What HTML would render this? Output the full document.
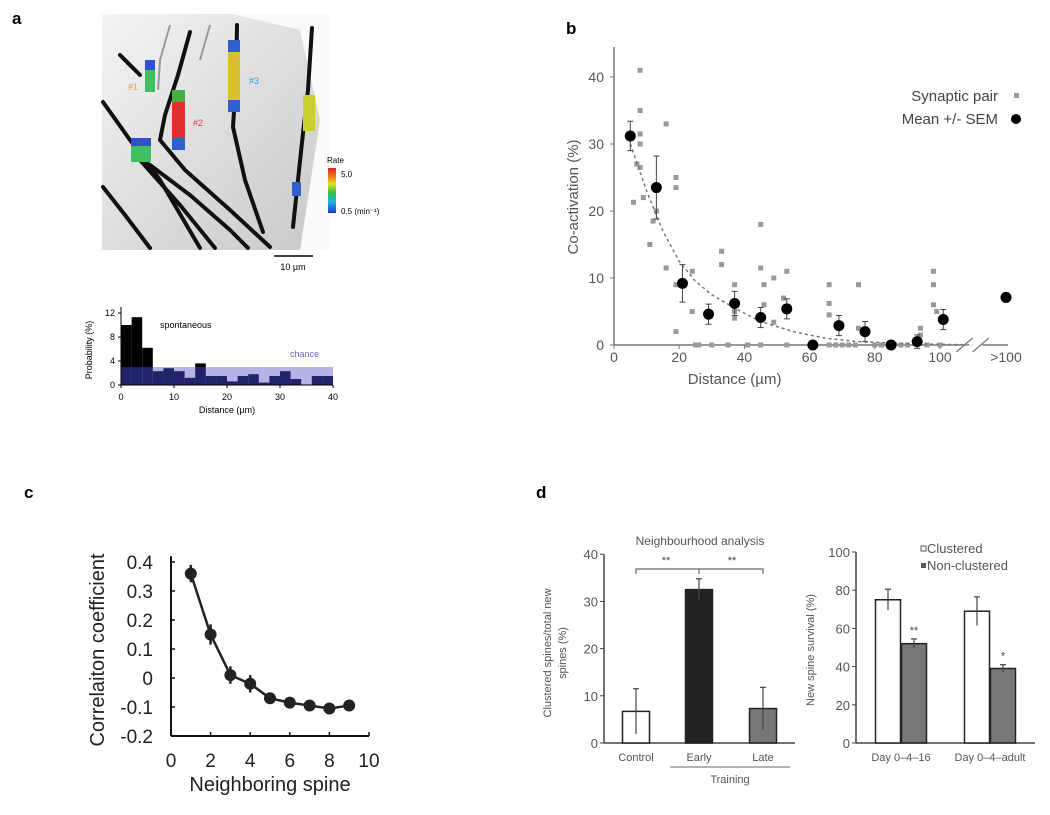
<!DOCTYPE html>
<html><head><meta charset="utf-8">
<style>
html,body{margin:0;padding:0;background:#fff;}
svg{display:block;font-family:"Liberation Sans",sans-serif;}
</style></head>
<body>
<svg id="fig" width="1050" height="815" viewBox="0 0 1050 815" xmlns="http://www.w3.org/2000/svg">
  <!-- panel letters -->
  <text x="12" y="24" font-size="17" font-weight="bold">a</text>
  <text x="566" y="34" font-size="17" font-weight="bold">b</text>
  <text x="24" y="498" font-size="17" font-weight="bold">c</text>
  <text x="536" y="498" font-size="17" font-weight="bold">d</text>

  <!-- panel a image -->
  <g>
    <defs>
      <linearGradient id="bgg" x1="0" y1="0" x2="1" y2="1">
        <stop offset="0" stop-color="#f4f4f4"/><stop offset="0.5" stop-color="#dedede"/><stop offset="1" stop-color="#c8c8c8"/>
      </linearGradient>
      <linearGradient id="cbar" x1="0" y1="1" x2="0" y2="0">
        <stop offset="0" stop-color="#2040c0"/><stop offset="0.25" stop-color="#20b0e0"/><stop offset="0.45" stop-color="#30c040"/><stop offset="0.65" stop-color="#e0e020"/><stop offset="0.8" stop-color="#f08020"/><stop offset="1" stop-color="#e02020"/>
      </linearGradient>
    </defs>
    <rect x="102" y="14" width="228" height="236" fill="url(#bgg)"/>
    <path d="M232,14 L330,14 L330,250 L300,250 L320,120 L300,30 Z" fill="#fafafa"/>
    <g fill="none" stroke="#111" stroke-width="4" stroke-linecap="round">
      <path d="M103,102 L130,140 L160,180 L200,248"/>
      <path d="M103,187 L125,215 L150,248"/>
      <path d="M190,32 L178,75 L165,115 L160,140 L185,170 L230,210 L270,247"/>
      <path d="M150,165 L190,195 L230,230 L248,248"/>
      <path d="M140,160 L180,205 L215,248"/>
      <path d="M237,25 L236,80 L233,127 L245,180 L263,232"/>
      <path d="M312,28 L308,90 L303,133 L298,180 L293,227"/>
      <path d="M120,55 L140,75"/>
    </g>
    <g fill="none" stroke="#999" stroke-width="2">
      <path d="M170,25 L160,60 L158,90"/><path d="M210,25 L200,60"/>
    </g>
    <rect x="145" y="60" width="10" height="32" fill="#40c060"/>
    <rect x="145" y="60" width="10" height="10" fill="#3050d0"/>
    <rect x="172" y="90" width="13" height="60" fill="#e03030"/>
    <rect x="172" y="90" width="13" height="12" fill="#40b040"/>
    <rect x="172" y="138" width="13" height="12" fill="#3060d0"/>
    <rect x="228" y="40" width="12" height="70" fill="#d8c030"/>
    <rect x="228" y="40" width="12" height="12" fill="#3060d0"/>
    <rect x="228" y="100" width="12" height="12" fill="#3060d0"/>
    <rect x="303" y="95" width="12" height="36" fill="#c8d030"/>
    <rect x="131" y="138" width="20" height="24" fill="#40c060"/>
    <rect x="131" y="138" width="20" height="8" fill="#3050d0"/>
    <rect x="292" y="182" width="9" height="14" fill="#3060d0"/>
    <text x="128" y="90" font-size="9" fill="#f0a030">#1</text>
    <text x="193" y="126" font-size="9" fill="#e04040">#2</text>
    <text x="249" y="84" font-size="9" fill="#30a0e0">#3</text>
    <text x="327" y="163" font-size="8">Rate</text>
    <rect x="328" y="168" width="8" height="45" fill="url(#cbar)"/>
    <text x="341" y="177" font-size="8">5.0</text>
    <text x="341" y="214" font-size="8">0.5 (min⁻¹)</text>
    <line x1="274" y1="256" x2="313" y2="256" stroke="#000" stroke-width="1.5"/>
    <text x="293" y="270" font-size="9" text-anchor="middle">10 µm</text>
  </g>

  <g id="hist"></g>
  <g id="pb"></g>
  <g id="pc"></g>
  <g id="pd1"></g>
  <g id="pd2"></g>
</svg>
<script>
// ---------- data ----------
const histBinWidth = 2;
const histSpont = [10,11.3,6.2,2.3,2.8,2.3,1.2,3.6,1.5,1.5,0.6,1.5,1.8,0.4,1.5,2.3,1,0,1.5,1.5];
const histChance = 3;
const histYTicks = [0,4,8,12];
const histXTicks = [0,10,20,30,40];

const bMeanX = [5,13,21,29,37,45,53,61,69,77,85,93,101];
const bMeanY = [31.2,23.5,9.2,4.6,6.2,4.1,5.4,0,2.9,2.0,0,0.5,3.8];
const bMeanErr = [2.2,4.7,2.8,1.5,1.8,1.5,1.5,0,1.5,1.5,0,1,1.5];
const bFarY = 7.1;
const bFarErr = 0.6;
const bPairX = [8,8,8,8,7,8,6,9,12,11,13,16,16,19,19,19,19,24,24,25,26,33,33,37,37,37,41,45,45,45,46,46,49,49,52,53,53,66,66,66,66,75,75,98,98,98,99,94,94,68,70,72,74,80,82,88,90,96,100,30,35];
const bPairY = [41,35,31.5,30,27,26.5,21.3,22,18.5,15,20,33,11.5,25,23.5,9,2,11,5,0,0,14,12,9,5,4,0,18,11.5,0,9,6,10,3.4,7,11,0,9,6.2,4.5,0,9,2.5,11,9,6,5,2.5,1.5,0,0,0,0,0,0,0,0,0,0,0,0];
const bFitX = [5,10,15,20,25,30,37,45,55,65,75,90,110];
const bFitY = [30,23,17,12.5,9.5,7.5,5.5,3.5,2,1,0.5,0.2,0];
const bXTicks = [0,20,40,60,80,100];
const bYTicks = [0,10,20,30,40];

const cX = [1,2,3,4,5,6,7,8,9];
const cY = [0.36,0.15,0.01,-0.02,-0.07,-0.085,-0.095,-0.105,-0.095];
const cErr = [0.03,0.035,0.03,0.03,0.015,0.015,0.015,0.015,0.02];
const cXTicks = [0,2,4,6,8,10];
const cYTicks = [-0.2,-0.1,0,0.1,0.2,0.3,0.4];

const d1Cats = ["Control","Early","Late"];
const d1Vals = [6.7,32.5,7.3];
const d1Err = [4.8,2.3,4.5];
const d1YTicks = [0,10,20,30,40];

const d2Groups = ["Day 0–4–16","Day 0–4–adult"];
const d2Clustered = [75,69];
const d2NonClustered = [52,39];
const d2ClErr = [5.5,7.5];
const d2NcErr = [2.5,2];
const d2Stars = ["**","*"];
const d2YTicks = [0,20,40,60,80,100];

// ---------- helpers ----------
const NS="http://www.w3.org/2000/svg";
function mk(tag, attrs, parent, txt){
  const e=document.createElementNS(NS,tag);
  for(const k in attrs) e.setAttribute(k,attrs[k]);
  if(txt!==undefined) e.textContent=txt;
  parent.appendChild(e); return e;
}
let el;

// ---------- histogram (panel a) ----------
(function(){
  const g=document.getElementById('hist');
  const X=v=>121+v*5.3, Y=v=>385-v*6;
  const xmax=40;
  el=mk('rect',{x:X(0),y:Y(histChance),width:X(xmax)-X(0),height:Y(0)-Y(histChance),fill:'#b4b4e6'},g);
  
  
  histSpont.forEach((v,i)=>{
    const x0=X(i*histBinWidth), w=X(histBinWidth)-X(0);
    const low=Math.min(v,histChance);
    el=mk('rect',{x:x0,y:Y(low),width:w,height:Y(0)-Y(low),fill:'#22226a'},g);
    
    
    if(v>histChance){
      el=mk('rect',{x:x0,y:Y(v),width:w,height:Y(histChance)-Y(v),fill:'#000'},g);
      
      
    }
  });
  mk('line',{x1:X(0),y1:Y(0),x2:X(xmax),y2:Y(0),stroke:'#000'},g);
  mk('line',{x1:X(0),y1:Y(0),x2:X(0),y2:Y(13),stroke:'#000'},g);
  histYTicks.forEach(t=>{
    mk('line',{x1:X(0)-3,y1:Y(t),x2:X(0),y2:Y(t),stroke:'#000'},g);
    el=mk('text',{x:X(0)-6,y:Y(t)+3,'font-size':9,'text-anchor':'end'},g,t);
    
    
  });
  histXTicks.forEach(t=>{
    mk('line',{x1:X(t),y1:Y(0),x2:X(t),y2:Y(0)+3,stroke:'#000'},g);
    el=mk('text',{x:X(t),y:Y(0)+15,'font-size':9,'text-anchor':'middle'},g,t);
    
    
  });
  el=mk('text',{x:160,y:328,'font-size':9},g,'spontaneous');
  
  
  el=mk('text',{x:290,y:357,'font-size':9,fill:'#6a6ac0'},g,'chance');
  
  
  el=mk('text',{x:X(20),y:413,'font-size':9,'text-anchor':'middle'},g,'Distance (µm)');
  
  
  el=mk('text',{x:0,y:0,'font-size':9,'text-anchor':'middle',transform:'translate(92,350) rotate(-90)'},g,'Probability (%)');
  
  
})();

// ---------- panel b ----------
(function(){
  const g=document.getElementById('pb');
  const X=v=>614+v*3.26, Y=v=>345-v*6.7;
  const farX=1006;
  mk('line',{x1:614,y1:345,x2:614,y2:47,stroke:'#777','stroke-width':1.5},g);
  mk('line',{x1:614,y1:345,x2:X(108),y2:345,stroke:'#777','stroke-width':1.5},g);
  mk('line',{x1:X(113),y1:345,x2:1008,y2:345,stroke:'#777','stroke-width':1.5},g);
  el=mk('path',{d:`M${X(105)},352 L${X(110)},338 M${X(110)},352 L${X(115)},338`,stroke:'#777','stroke-width':1.2,fill:'none'},g);
  
  
  bYTicks.forEach(t=>{
    mk('line',{x1:610,y1:Y(t),x2:614,y2:Y(t),stroke:'#777'},g);
    el=mk('text',{x:604,y:Y(t)+5,'font-size':14,'text-anchor':'end',fill:'#555'},g,t);
    
    
  });
  bXTicks.forEach(t=>{
    mk('line',{x1:X(t),y1:345,x2:X(t),y2:349,stroke:'#777'},g);
    el=mk('text',{x:X(t),y:362,'font-size':14,'text-anchor':'middle',fill:'#555'},g,t);
    
    
  });
  el=mk('text',{x:farX,y:362,'font-size':14,'text-anchor':'middle',fill:'#555'},g,'>100');
  
  
  el=mk('text',{x:X(37),y:384,'font-size':15,'text-anchor':'middle',fill:'#555'},g,'Distance (µm)');
  
  
  el=mk('text',{x:0,y:0,'font-size':15,'text-anchor':'middle',fill:'#555',transform:'translate(578,197) rotate(-90)'},g,'Co-activation (%)');
  
  
  // pairs
  bPairX.forEach((x,i)=>{
    el=mk('rect',{x:X(x)-2.5,y:Y(bPairY[i])-2.5,width:5,height:5,fill:'#999'},g);
    
    
  });
  // fit
  el=mk('polyline',{points:bFitX.map((x,i)=>X(x)+','+Y(bFitY[i])).join(' '),fill:'none',stroke:'#777','stroke-width':1.5,'stroke-dasharray':'3,3'},g);
  
  
  // means
  function mean(px,v,e){
    if(e>0){
      mk('line',{x1:px,y1:Y(v-e),x2:px,y2:Y(v+e),stroke:'#444'},g);
      mk('line',{x1:px-3,y1:Y(v+e),x2:px+3,y2:Y(v+e),stroke:'#444'},g);
      mk('line',{x1:px-3,y1:Y(v-e),x2:px+3,y2:Y(v-e),stroke:'#444'},g);
    }
    const c=mk('circle',{cx:px,cy:Y(v),r:5.5,fill:'#000'},g);
    return c;
  }
  bMeanX.forEach((x,i)=>{
    el=mean(X(x),bMeanY[i],bMeanErr[i]);
    
    
  });
  el=mean(farX,bFarY,bFarErr);
  
  
  // legend
  el=mk('text',{x:998,y:101,'font-size':15,'text-anchor':'end',fill:'#444'},g,'Synaptic pair');
  
  
  mk('rect',{x:1014,y:93,width:5,height:5,fill:'#999'},g);
  el=mk('text',{x:998,y:124,'font-size':15,'text-anchor':'end',fill:'#444'},g,'Mean +/- SEM');
  
  
  mk('circle',{cx:1016,cy:119,r:5,fill:'#000'},g);
})();

// ---------- panel c ----------
(function(){
  const g=document.getElementById('pc');
  const X=v=>171+v*19.8, Y=v=>678-v*290;
  mk('line',{x1:171,y1:Y(-0.2),x2:171,y2:Y(0.42),stroke:'#111','stroke-width':2},g);
  mk('line',{x1:171,y1:Y(-0.2),x2:X(10),y2:Y(-0.2),stroke:'#111','stroke-width':2},g);
  cYTicks.forEach(t=>{
    mk('line',{x1:171,y1:Y(t),x2:175,y2:Y(t),stroke:'#111','stroke-width':1.5},g);
    el=mk('text',{x:153,y:Y(t)+7,'font-size':19,'text-anchor':'end',fill:'#222'},g,t===0?'0':t.toFixed(1));
    
    
  });
  cXTicks.forEach(t=>{
    mk('line',{x1:X(t),y1:Y(-0.2),x2:X(t),y2:Y(-0.2)-4,stroke:'#111','stroke-width':1.5},g);
    el=mk('text',{x:X(t),y:767,'font-size':19,'text-anchor':'middle',fill:'#222'},g,t);
    
    
  });
  el=mk('text',{x:X(5),y:791,'font-size':20,'text-anchor':'middle',fill:'#222'},g,'Neighboring spine');
  
  
  el=mk('text',{x:0,y:0,'font-size':20,'text-anchor':'middle',fill:'#222',transform:'translate(104,650) rotate(-90)'},g,'Correlaiton coefficient');
  
  
  el=mk('polyline',{points:cX.map((x,i)=>X(x)+','+Y(cY[i])).join(' '),fill:'none',stroke:'#222','stroke-width':2.5},g);
  
  
  cX.forEach((x,i)=>{
    mk('line',{x1:X(x),y1:Y(cY[i]-cErr[i]),x2:X(x),y2:Y(cY[i]+cErr[i]),stroke:'#222','stroke-width':2.5},g);
    el=mk('circle',{cx:X(x),cy:Y(cY[i]),r:6,fill:'#222'},g);
    
    
  });
})();

// ---------- panel d left ----------
(function(){
  const g=document.getElementById('pd1');
  const Y=v=>743-v*4.72;
  const cx=[636,699,763], bw=27, fills=['#fff','#222','#777'];
  mk('line',{x1:604,y1:Y(0),x2:604,y2:Y(40),stroke:'#444','stroke-width':1.5},g);
  mk('line',{x1:604,y1:Y(0),x2:795,y2:Y(0),stroke:'#444','stroke-width':1.5},g);
  d1YTicks.forEach(t=>{
    mk('line',{x1:600,y1:Y(t),x2:604,y2:Y(t),stroke:'#444'},g);
    el=mk('text',{x:598,y:Y(t)+5,'font-size':13,'text-anchor':'end',fill:'#555'},g,t);
    
    
  });
  d1Cats.forEach((c,i)=>{
    const v=d1Vals[i], e=d1Err[i];
    el=mk('rect',{x:cx[i]-bw/2,y:Y(v),width:bw,height:Y(0)-Y(v),fill:fills[i],stroke:'#222','stroke-width':1.5},g);
    
    
    mk('line',{x1:cx[i],y1:Y(v-e),x2:cx[i],y2:Y(v+e),stroke:'#444','stroke-width':1.2},g);
    mk('line',{x1:cx[i]-3,y1:Y(v+e),x2:cx[i]+3,y2:Y(v+e),stroke:'#444','stroke-width':1.2},g);
    el=mk('text',{x:cx[i],y:761,'font-size':11,'text-anchor':'middle',fill:'#555'},g,c);
    
    
  });
  el=mk('path',{d:`M636,574 L636,569 L763,569 L763,574 M699,569 L699,574`,fill:'none',stroke:'#666','stroke-width':1.2},g);
  
  
  mk('text',{x:666,y:564,'font-size':11,'text-anchor':'middle',fill:'#444'},g,'**');
  mk('text',{x:732,y:564,'font-size':11,'text-anchor':'middle',fill:'#444'},g,'**');
  el=mk('text',{x:700,y:545,'font-size':12,'text-anchor':'middle',fill:'#555'},g,'Neighbourhood analysis');
  
  
  mk('line',{x1:670,y1:767,x2:790,y2:767,stroke:'#888','stroke-width':1.2},g);
  el=mk('text',{x:730,y:783,'font-size':11,'text-anchor':'middle',fill:'#555'},g,'Training');
  
  
  el=mk('text',{x:0,y:0,'font-size':11,'text-anchor':'middle',fill:'#555',transform:'translate(551,653) rotate(-90)'},g,'Clustered spines/total new');
  
  
  mk('text',{x:0,y:0,'font-size':11,'text-anchor':'middle',fill:'#555',transform:'translate(566,653) rotate(-90)'},g,'spines (%)');
})();

// ---------- panel d right ----------
(function(){
  const g=document.getElementById('pd2');
  const Y=v=>743-v*1.91;
  const gc=[901,990], bw=25;
  mk('line',{x1:856,y1:Y(0),x2:856,y2:Y(100),stroke:'#444','stroke-width':1.5},g);
  mk('line',{x1:856,y1:Y(0),x2:1035,y2:Y(0),stroke:'#444','stroke-width':1.5},g);
  d2YTicks.forEach(t=>{
    mk('line',{x1:852,y1:Y(t),x2:856,y2:Y(t),stroke:'#444'},g);
    el=mk('text',{x:850,y:Y(t)+5,'font-size':13,'text-anchor':'end',fill:'#555'},g,t);
    
    
  });
  d2Groups.forEach((name,i)=>{
    const xs=[gc[i]-bw/2-0.5, gc[i]+bw/2+0.5];
    const vals=[d2Clustered[i],d2NonClustered[i]], errs=[d2ClErr[i],d2NcErr[i]];
    const f=['#fff','#777'];
    for(let j=0;j<2;j++){
      el=mk('rect',{x:xs[j]-bw/2,y:Y(vals[j]),width:bw,height:Y(0)-Y(vals[j]),fill:f[j],stroke:'#222','stroke-width':1.5},g);
      
      
      mk('line',{x1:xs[j],y1:Y(vals[j]-errs[j]),x2:xs[j],y2:Y(vals[j]+errs[j]),stroke:'#444','stroke-width':1.2},g);
      mk('line',{x1:xs[j]-3,y1:Y(vals[j]+errs[j]),x2:xs[j]+3,y2:Y(vals[j]+errs[j]),stroke:'#444','stroke-width':1.2},g);
    }
    el=mk('text',{x:xs[1],y:Y(vals[1]+errs[1])-5,'font-size':11,'text-anchor':'middle',fill:'#444'},g,d2Stars[i]);
    
    
    el=mk('text',{x:gc[i],y:761,'font-size':11,'text-anchor':'middle',fill:'#555'},g,name);
    
    
  });
  mk('rect',{x:921,y:546,width:5,height:5,fill:'#fff',stroke:'#555'},g);
  el=mk('text',{x:927,y:553,'font-size':13,fill:'#555'},g,'Clustered');
  
  
  mk('rect',{x:921,y:563,width:5,height:5,fill:'#555'},g);
  el=mk('text',{x:927,y:570,'font-size':13,fill:'#555'},g,'Non-clustered');
  
  
  el=mk('text',{x:0,y:0,'font-size':11,'text-anchor':'middle',fill:'#555',transform:'translate(814,650) rotate(-90)'},g,'New spine survival (%)');
  
  
})();
</script>
</body></html>
